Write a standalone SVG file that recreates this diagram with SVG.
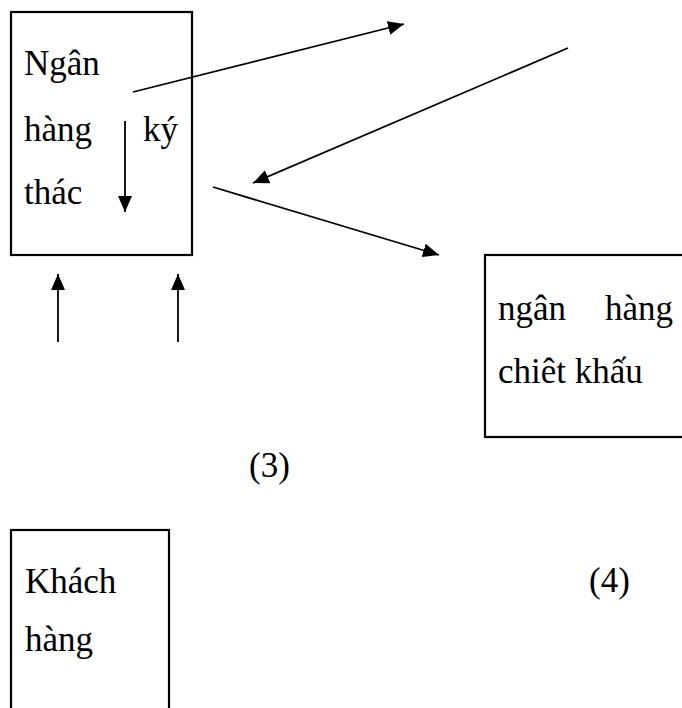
<svg xmlns="http://www.w3.org/2000/svg" width="682" height="708" viewBox="0 0 682 708">
  <style>
    .box { fill: none; stroke: #000; stroke-width: 2.2; }
    .lbl { font-family: "Liberation Serif", "Times New Roman", serif; font-size: 35px; fill: #000; }
    .edge { stroke: #000; stroke-width: 1.8; fill: none; marker-end: url(#head); }
  </style>
  <defs>
    <marker id="head" markerUnits="userSpaceOnUse" markerWidth="18" markerHeight="14" refX="16" refY="7" orient="auto">
      <path d="M0,0 L16,7 L0,14 z" fill="#000"/>
    </marker>
  </defs>
  <rect x="0" y="0" width="682" height="708" fill="#fff"/>

  <g id="ngan-hang-ky-thac">
    <rect class="box" x="11" y="12" width="181" height="243"/>
    <text class="lbl" x="24" y="75">Ngân</text>
    <text class="lbl" x="24" y="141">hàng</text>
    <text class="lbl" x="143" y="141">ký</text>
    <text class="lbl" x="24" y="204">thác</text>
  </g>

  <g id="ngan-hang-chiet-khau">
    <rect class="box" x="485" y="255" width="202" height="182"/>
    <text class="lbl" x="498" y="320">ngân</text>
    <text class="lbl" x="673" y="320" text-anchor="end">hàng</text>
    <text class="lbl" x="498" y="383">chiêt khấu</text>
  </g>

  <g id="khach-hang">
    <rect class="box" x="11" y="530" width="158" height="190"/>
    <text class="lbl" x="25" y="593">Khách</text>
    <text class="lbl" x="25" y="651">hàng</text>
  </g>

  <g id="step-labels">
    <text class="lbl" x="249" y="477">(3)</text>
    <text class="lbl" x="589" y="592">(4)</text>
  </g>

  <g id="connectors">
    <line class="edge" x1="133" y1="92" x2="404" y2="24"/>
    <line class="edge" x1="568" y1="48" x2="253" y2="183"/>
    <line class="edge" x1="213" y1="187" x2="439" y2="255"/>
    <line class="edge" x1="125" y1="121" x2="125" y2="212"/>
    <line class="edge" x1="58" y1="342" x2="58" y2="274"/>
    <line class="edge" x1="178" y1="342" x2="178" y2="274"/>
  </g>
</svg>
